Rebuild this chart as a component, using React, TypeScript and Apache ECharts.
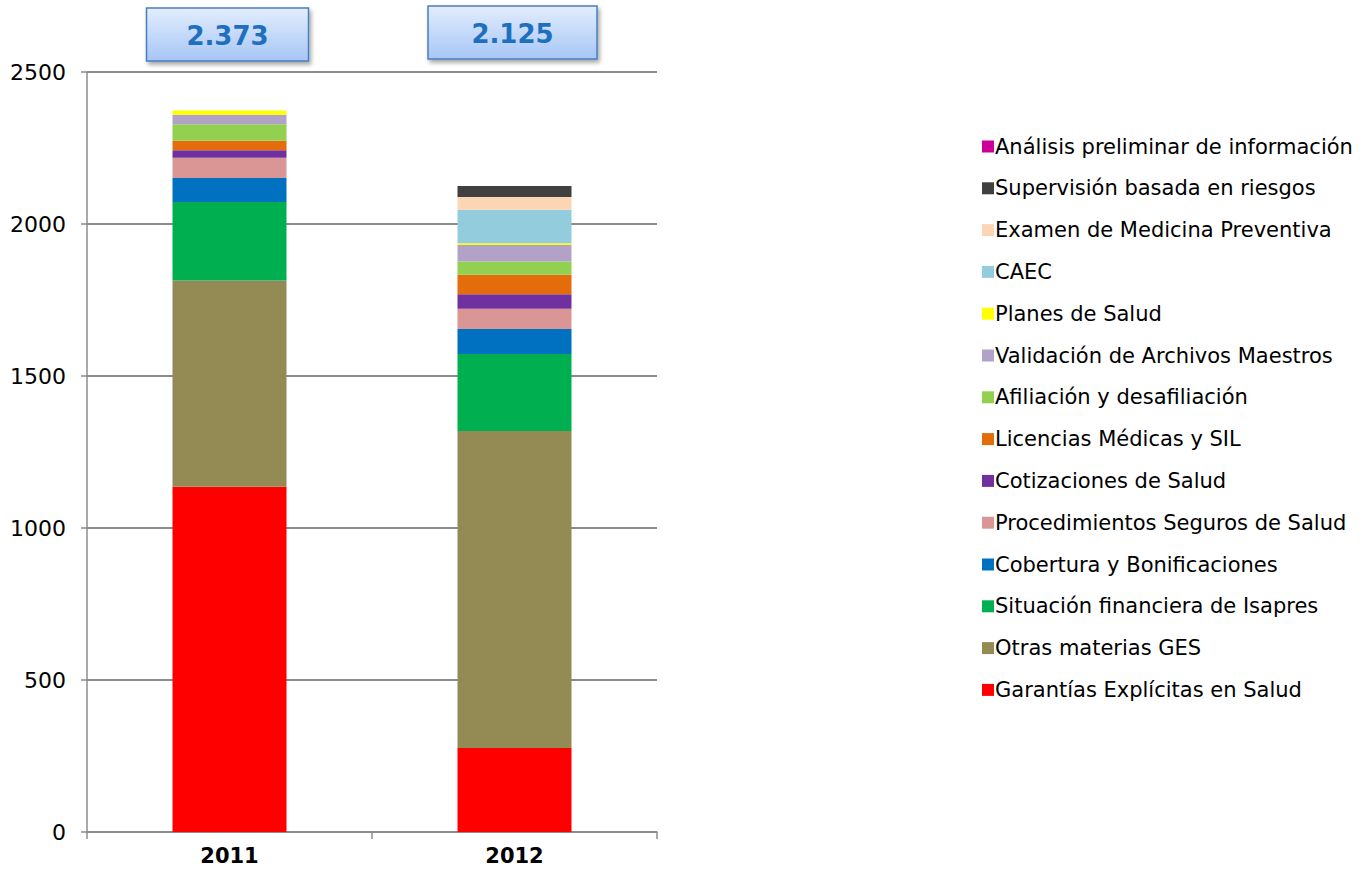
import React, { useEffect, useRef } from "react";
import * as echarts from "echarts";

// Años
const years = ["2011", "2012"];

// Totales por año (cuadros superiores)
const totals = [2373, 2125];

// Valores por materia, en el orden de apilado (de abajo hacia arriba)
const garantiasExplicitas = [1136, 276];
const otrasMateriasGes = [678, 1043];
const situacionFinanciera = [258, 253];
const coberturaBonificaciones = [79, 83];
const procedimientosSeguros = [67, 66];
const cotizacionesSalud = [25, 48];
const licenciasMedicas = [31, 64];
const afiliacion = [54, 44];
const validacionArchivos = [31, 54];
const planesSalud = [14, 6];
const caec = [0, 110];
const examenMedicina = [0, 42];
const supervisionRiesgos = [0, 36];
const analisisPreliminar = [0, 0];

const seriesNames = [
  "Garantías Explícitas en Salud",
  "Otras materias GES",
  "Situación financiera de Isapres",
  "Cobertura y Bonificaciones",
  "Procedimientos Seguros de Salud",
  "Cotizaciones de Salud",
  "Licencias Médicas y SIL",
  "Afiliación y desafiliación",
  "Validación de Archivos Maestros",
  "Planes de Salud",
  "CAEC",
  "Examen de Medicina Preventiva",
  "Supervisión basada en riesgos",
  "Análisis preliminar de información",
];

const seriesValues = [
  garantiasExplicitas,
  otrasMateriasGes,
  situacionFinanciera,
  coberturaBonificaciones,
  procedimientosSeguros,
  cotizacionesSalud,
  licenciasMedicas,
  afiliacion,
  validacionArchivos,
  planesSalud,
  caec,
  examenMedicina,
  supervisionRiesgos,
  analisisPreliminar,
];

const seriesColors = [
  "#FF0000",
  "#948A54",
  "#00B050",
  "#0070C0",
  "#D99694",
  "#7030A0",
  "#E46C0A",
  "#92D050",
  "#B3A2C7",
  "#FFFF00",
  "#93CDDD",
  "#FCD5B5",
  "#404040",
  "#CC0099",
];

const yTicks = { min: 0, max: 2500, interval: 500 };

const FONT = "'DejaVu Sans', Verdana, sans-serif";

function formatThousands(v: number): string {
  return String(v).replace(/\B(?=(\d{3})+(?!\d))/g, ".");
}

export default function App() {
  const ref = useRef<HTMLDivElement>(null);

  useEffect(() => {
    if (!ref.current) return;
    const chart = echarts.init(ref.current, undefined, { renderer: "svg" });

    const series = seriesNames.map((name, i) => ({
      name,
      type: "bar" as const,
      stack: "total",
      barWidth: 114,
      itemStyle: { color: seriesColors[i] },
      emphasis: { disabled: true },
      data: seriesValues[i],
    }));

    chart.setOption({
      animation: false,
      backgroundColor: "#ffffff",
      textStyle: { fontFamily: FONT },
      grid: { left: 87, right: 710, top: 72, bottom: 39, containLabel: false },
      legend: {
        orient: "vertical",
        left: 977,
        top: 131,
        itemWidth: 12,
        itemHeight: 12,
        itemGap: 20.8,
        icon: "rect",
        selectedMode: false,
        data: [...seriesNames].reverse(),
        textStyle: { fontFamily: FONT, fontSize: 21, color: "#000000", padding: [0, 0, 0, -4] },
      },
      xAxis: {
        type: "category",
        data: years,
        axisLine: { lineStyle: { color: "#8c8c8c", width: 1.5 } },
        axisTick: { show: true, length: 7, lineStyle: { color: "#8c8c8c", width: 1.5 } },
        axisLabel: {
          fontFamily: FONT,
          fontSize: 21,
          fontWeight: "bold",
          color: "#000000",
          margin: 13,
        },
      },
      yAxis: {
        type: "value",
        min: yTicks.min,
        max: yTicks.max,
        interval: yTicks.interval,
        axisLine: { show: true, lineStyle: { color: "#8c8c8c", width: 1.5 } },
        axisTick: { show: true, length: 6, lineStyle: { color: "#8c8c8c", width: 1.5 } },
        axisLabel: {
          fontFamily: FONT,
          fontSize: 22,
          color: "#000000",
          margin: 21,
          formatter: (v: number) => String(v),
        },
        splitLine: { show: true, lineStyle: { color: "#8c8c8c", width: 2 } },
      },
      series,
    });

    // Cuadros con el total de cada año, centrados sobre su barra
    const boxW = [162, 169];
    const boxH = 53;
    const boxTops = [8, 6];
    const graphic = years.map((y, i) => {
      const cx = (chart.convertToPixel({ xAxisIndex: 0 }, y) as number) - 2;
      const top = boxTops[i];
      return {
        type: "group",
        children: [
          {
            type: "rect",
            shape: { x: cx - boxW[i] / 2, y: top, width: boxW[i], height: boxH },
            style: {
              fill: new echarts.graphic.LinearGradient(0, 0, 0, 1, [
                { offset: 0, color: "#e3edfd" },
                { offset: 1, color: "#a6c6f6" },
              ]),
              stroke: "#4a7ebb",
              lineWidth: 1.5,
              shadowBlur: 4,
              shadowOffsetX: 2,
              shadowOffsetY: 3,
              shadowColor: "rgba(0,0,0,0.35)",
            },
          },
          {
            type: "text",
            x: cx,
            y: top + boxH / 2 + 1,
            style: {
              text: formatThousands(totals[i]),
              fontFamily: FONT,
              fontSize: 26,
              fontWeight: "bold",
              fill: "#1f6fbf",
              align: "center",
              verticalAlign: "middle",
            },
          },
        ],
      };
    });
    chart.setOption({ graphic });

    return () => chart.dispose();
  }, []);

  return (
    <div
      ref={ref}
      style={{ position: "fixed", left: 0, top: 0, width: 1367, height: 871, background: "#fff" }}
    />
  );
}
